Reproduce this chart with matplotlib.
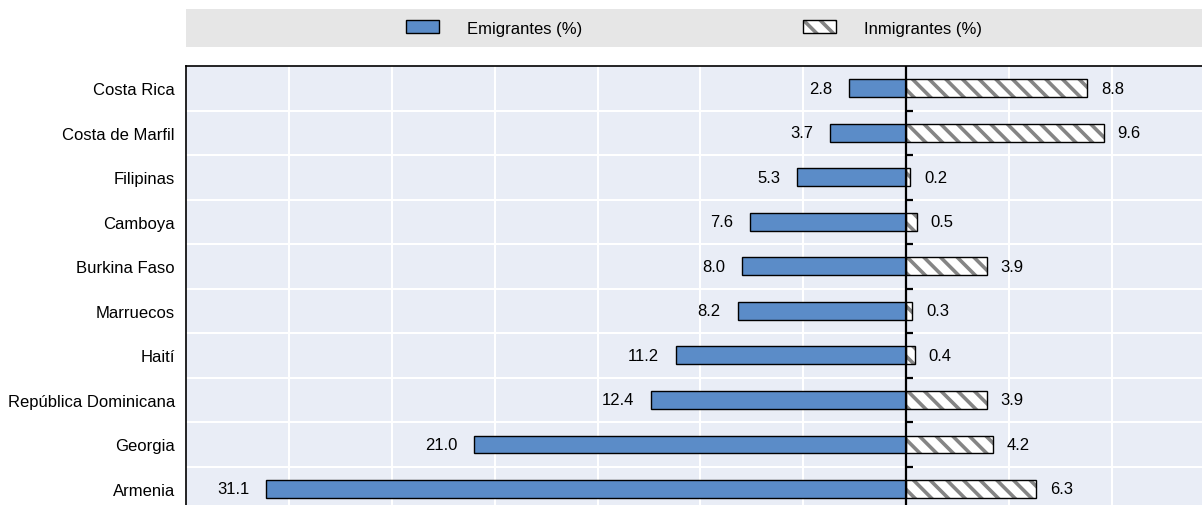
import matplotlib
matplotlib.use("Agg")
import matplotlib.pyplot as plt
from matplotlib.patches import Patch
from matplotlib.legend_handler import HandlerTuple
from matplotlib import markers
import numpy as np

countries = ["Costa Rica", "Costa de Marfil", "Filipinas", "Camboya", "Burkina Faso",
             "Marruecos", "Haití", "República Dominicana", "Georgia", "Armenia"]
emigrants = [2.8, 3.7, 5.3, 7.6, 8.0, 8.2, 11.2, 12.4, 21.0, 31.1]
immigrants = [8.8, 9.6, 0.2, 0.5, 3.9, 0.3, 0.4, 3.9, 4.2, 6.3]
legend_labels = ["Emigrantes (%)", "Inmigrantes (%)"]

plt.rcParams['font.family'] = ['Liberation Sans', 'DejaVu Sans']
plt.rcParams['hatch.linewidth'] = 2.6

BLUE = '#5B8CC8'
HATCHC = '#858585'
FS = 12

fig = plt.figure(figsize=(12.02, 5.06), dpi=100)
W, H = 1202, 506
ax = fig.add_axes([186 / W, 0, 1 - 186 / W, 1 - 67 / H])
ax.set_facecolor('#E9EDF6')

y = np.arange(len(countries))
bh = 0.4
ax.barh(y, [-v for v in emigrants], height=bh, color=BLUE, edgecolor='black', linewidth=1, zorder=3)
ax.barh(y, immigrants, height=bh, color='white', edgecolor=HATCHC, linewidth=0,
        hatch='\\\\', zorder=3)
ax.barh(y, immigrants, height=bh, color='none', edgecolor='black', linewidth=1, zorder=4)

for yi, e, i in zip(y, emigrants, immigrants):
    ax.annotate(f"{e:.1f}", (-e, yi), xytext=(-12, 0), textcoords='offset points',
                ha='right', va='center', fontsize=FS)
    ax.annotate(f"{i:.1f}", (i, yi), xytext=(10, 0), textcoords='offset points',
                ha='left', va='center', fontsize=FS)

ax.set_xlim(-35, 14.37)
ax.set_ylim(len(countries) - 1 + 0.36, -0.5)

ax.set_yticks(y)
ax.set_yticklabels(countries, fontsize=FS)
ax.tick_params(axis='y', length=0, pad=8)
ax.set_xticks(np.arange(-30, 15, 5))
ax.tick_params(axis='x', length=0, labelbottom=False)
ax.xaxis.grid(True, color='white', linewidth=1.5, zorder=0)
seps = np.arange(0.5, len(countries) - 0.5, 1.0)
ax.set_yticks(seps, minor=True)
ax.tick_params(axis='y', which='minor', length=0)
ax.yaxis.grid(True, which='minor', color='white', linewidth=1.5, zorder=0)
ax.yaxis.grid(False, which='major')
ax.set_axisbelow(True)

ax.axvline(0, color='black', linewidth=1.6, zorder=5)
ax.plot(np.zeros(len(seps)), seps, linestyle='none', marker=markers.TICKRIGHT,
        markersize=5, color='black', markeredgewidth=1.6, zorder=5)

for s in ['right', 'bottom']:
    ax.spines[s].set_visible(False)
ax.spines['top'].set_linewidth(1.2)
ax.spines['left'].set_linewidth(1.2)

# legend panel
lax = fig.add_axes([186 / W, 1 - 48 / H, 1 - 186 / W, 38 / H])
lax.set_facecolor('#E6E6E6')
for s in lax.spines.values():
    s.set_visible(False)
lax.set_xticks([])
lax.set_yticks([])
h_emi = Patch(facecolor=BLUE, edgecolor='black', linewidth=1)
h_imm = (Patch(facecolor='white', edgecolor=HATCHC, linewidth=0, hatch='\\\\'),
         Patch(facecolor='none', edgecolor='black', linewidth=1))
lax.legend([h_emi, h_imm], legend_labels, loc='center', ncol=2, frameon=False, fontsize=FS,
           handlelength=2.0, handleheight=0.78, handletextpad=1.7, columnspacing=13.2,
           handler_map={tuple: HandlerTuple(ndivide=1, pad=0)})

fig.savefig("out.png", dpi=100)
